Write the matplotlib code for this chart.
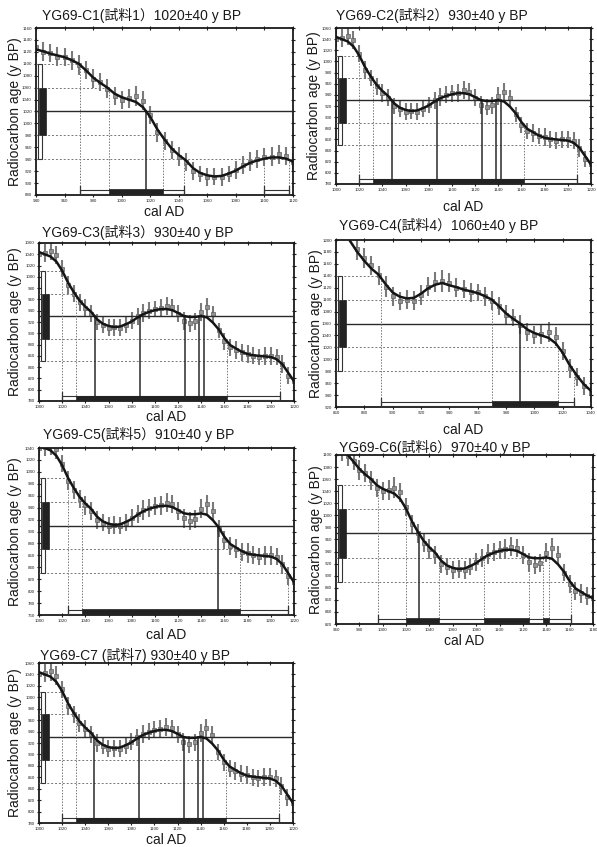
import numpy as np
import matplotlib
matplotlib.use("Agg")
import matplotlib.pyplot as plt
import matplotlib.transforms as mtransforms
from matplotlib.patches import Rectangle

plt.rcParams["font.family"] = ["Liberation Sans", "Noto Sans CJK JP", "DejaVu Sans"]

# --- calibration curve (cal AD -> radiocarbon age BP) ---
curve_year = [870, 875, 880, 885, 890, 895, 900, 905, 910, 915, 920, 925, 930, 935,
              940, 945, 950, 955, 960, 965, 970, 975, 980, 985, 990, 995, 1000, 1005,
              1010, 1015, 1020, 1025, 1030, 1035, 1040, 1045, 1050, 1055, 1060, 1065,
              1070, 1075, 1080, 1085, 1090, 1095, 1100, 1105, 1110, 1115, 1120, 1125,
              1130, 1135, 1140, 1145, 1150, 1155, 1160, 1165, 1170, 1175, 1180, 1185,
              1190, 1195, 1200, 1205, 1210, 1215, 1220]
curve_bp = [1198, 1180, 1165, 1152, 1142, 1126, 1112, 1105, 1102, 1103, 1110, 1119, 1125, 1128,
            1124, 1121, 1117, 1114, 1111, 1106, 1100, 1089, 1077, 1068, 1060, 1050, 1044, 1040,
            1036, 1027, 1011, 990, 973, 958, 947, 938, 925, 917, 913, 911,
            912, 916, 921, 928, 934, 938, 941, 943, 943, 941, 936, 930.5,
            929, 929, 930.5, 928, 919, 907, 891, 879, 873, 867, 863, 861,
            860, 859, 858, 854, 845, 830, 815]

# --- tree-ring measurements with 1-sigma errors ---
meas_year = [875, 880, 885, 890, 895, 900, 905, 910, 915, 920, 925, 930, 935, 940,
             945, 950, 955, 960, 965, 970, 975, 980, 985, 990, 995, 1000, 1005, 1010,
             1015, 1020, 1025, 1030, 1035, 1040, 1045, 1050, 1055, 1060, 1065, 1070,
             1075, 1080, 1085, 1090, 1095, 1100, 1105, 1110, 1115, 1120, 1125, 1130,
             1135, 1140, 1145, 1150, 1155, 1160, 1165, 1170, 1175, 1180, 1185, 1190,
             1195, 1200, 1205, 1210, 1215, 1220]
meas_bp = [1185, 1170, 1158, 1141, 1122, 1106, 1098, 1100, 1098, 1108, 1122, 1130, 1131, 1128,
           1120, 1118, 1112, 1112, 1106, 1098, 1090, 1075, 1070, 1058, 1046, 1040, 1042, 1046,
           1038, 1014, 985, 970, 955, 944, 935, 920, 915, 910, 911, 910,
           915, 922, 930, 936, 940, 943, 944, 948, 946, 935, 922, 918,
           921, 938, 946, 934, 905, 886, 875, 871, 866, 864, 860, 858,
           860, 860, 858, 845, 825, 815]
meas_err = [18, 17, 16, 16, 17, 16, 15, 16, 16, 17, 16, 17, 18, 16,
            16, 15, 16, 15, 16, 16, 15, 16, 15, 16, 15, 15, 16, 17,
            16, 15, 16, 15, 15, 16, 15, 15, 14, 15, 15, 15,
            14, 15, 15, 16, 15, 15, 16, 16, 15, 15, 16, 15,
            15, 16, 16, 15, 14, 15, 15, 16, 15, 16, 15, 15,
            16, 16, 15, 16, 15, 15]

# --- samples ---
titles = ["YG69-C1(試料1）1020±40 y BP",
          "YG69-C2(試料2）930±40 y BP",
          "YG69-C3(試料3）930±40 y BP",
          "YG69-C4(試料4）1060±40 y BP",
          "YG69-C5(試料5）910±40 y BP",
          "YG69-C6(試料6）970±40 y BP",
          "YG69-C7 (試料7) 930±40 y BP"]
sample_age = [1020, 930, 930, 1060, 910, 970, 930]
sample_err = [40, 40, 40, 40, 40, 40, 40]
x_limits = [(940, 1120), (1000, 1220), (1000, 1220), (860, 1040),
            (1000, 1220), (960, 1180), (1000, 1220)]
y_limits = [(880, 1160), (780, 1060), (780, 1060), (920, 1200),
            (760, 1040), (820, 1100), (780, 1060)]
range_1sigma = [[(991, 1029)],
                [(1032, 1162)],
                [(1032, 1162)],
                [(970, 1017)],
                [(1037, 1173)],
                [(1020, 1048), (1087, 1125), (1137, 1142)],
                [(1032, 1162)]]
range_2sigma = [[(971, 1044), (1100, 1117)],
                [(1020, 1208)],
                [(1020, 1208)],
                [(892, 1028)],
                [(1025, 1215)],
                [(996, 1161)],
                [(1020, 1208)]]
intercepts = [[1017],
              [1048, 1087, 1126, 1138, 1142],
              [1048, 1087, 1126, 1138, 1142],
              [990],
              [1154],
              [1031],
              [1048, 1087, 1126, 1138, 1142]]

# --- page layout in pixels: (left, top, right, bottom) ---
W, H = 597, 847
boxes = [(36, 28, 293, 195), (336, 28, 591, 184), (39, 243, 294, 401),
         (336, 240, 591, 407), (39, 448, 294, 615), (336, 455, 593, 624),
         (39, 663, 293, 823)]
title_pos = [(42, 15), (336, 15), (42, 232), (339, 225), (43, 434), (339, 447), (40, 655)]
xlabel_y = [212, 207, 417, 430, 635, 641, 840]
ylabel_x = [15, 314, 15, 316, 15, 316, 15]

fig = plt.figure(figsize=(W / 100, H / 100), dpi=100)

cx = np.array(curve_year, float)
cy = np.array(curve_bp, float)

for i in range(len(titles)):
    l, t, r, b = boxes[i]
    ax = fig.add_axes([l / W, 1 - b / H, (r - l) / W, (b - t) / H])
    x0, x1 = x_limits[i]
    y0, y1 = y_limits[i]
    ax.set_xlim(x0, x1)
    ax.set_ylim(y0, y1)
    age, err = sample_age[i], sample_err[i]
    levels = [age + 2 * err, age + err, age - err, age - 2 * err]

    # measurements and curve
    ax.errorbar(meas_year, meas_bp, yerr=meas_err, fmt="s", ms=3.0, color="#7a7a7a",
                mfc="#929292", mec="#5e5e5e", mew=0.5, elinewidth=1.5, capsize=0, zorder=2)
    ax.plot(cx, cy, color="#151515", lw=1.8, zorder=4)

    # mean age line
    ax.axhline(age, color="#2a2a2a", lw=1.0, zorder=3)

    # range edges: dotted verticals up to the curve level, dotted horizontals
    edges = [e for rng in range_1sigma[i] + range_2sigma[i] for e in rng]
    reach = {}
    for e in edges:
        c_here = np.interp(e, cx, cy)
        lev = min(levels, key=lambda L: abs(L - c_here))
        ax.plot([e, e], [y0, lev], color="#777777", lw=0.7, ls=(0, (1.5, 1.5)), zorder=3)
        reach[lev] = max(reach.get(lev, x0), e)
    for lev in levels:
        ax.plot([x0, reach.get(lev, x0)], [lev, lev], color="#777777", lw=0.7,
                ls=(0, (2, 2)), zorder=3)

    # intercept lines
    for e in intercepts[i]:
        ax.plot([e, e], [y0, age], color="#2a2a2a", lw=1.1, zorder=3)

    # calibrated ranges along the bottom
    tb = mtransforms.blended_transform_factory(ax.transData, ax.transAxes)
    for a, c in range_2sigma[i]:
        ax.add_patch(Rectangle((a, 0.008), c - a, 0.022, transform=tb, fc="white",
                               ec="#333333", lw=0.8, zorder=5, clip_on=False))
        for e in (a, c):
            ax.plot([e, e], [0.005, 0.055], transform=tb, color="#333333", lw=0.9,
                    zorder=5, clip_on=False)
    for a, c in range_1sigma[i]:
        ax.add_patch(Rectangle((a, 0.004), c - a, 0.03, transform=tb, fc="#222222",
                               ec="#222222", lw=0.5, zorder=6, clip_on=False))

    # measured age bars along the left
    tl = mtransforms.blended_transform_factory(ax.transAxes, ax.transData)
    ax.add_patch(Rectangle((0.006, age - 2 * err), 0.016, 4 * err, transform=tl,
                           fc="white", ec="#333333", lw=0.8, zorder=5))
    ax.add_patch(Rectangle((0.012, age - err), 0.028, 2 * err, transform=tl,
                           fc="#222222", ec="#222222", lw=0.5, zorder=6))

    ax.set_xticks(np.arange(x0, x1 + 1, 20))
    ax.set_yticks(np.arange(y0, y1 + 1, 20))
    ax.tick_params(direction="inout", length=3, width=0.8, labelsize=3.2,
                   top=True, right=True, pad=1.5, colors="#222222")
    for s in ax.spines.values():
        s.set_linewidth(1.3)
        s.set_color("#1a1a1a")

    tx, ty = title_pos[i]
    fig.text(tx / W, 1 - ty / H, titles[i], ha="left", va="center", fontsize=10,
             color="#1a1a1a")
    fig.text((l + r) / 2 / W, 1 - xlabel_y[i] / H, "cal AD", ha="center", va="center",
             fontsize=10, color="#1a1a1a")
    fig.text(ylabel_x[i] / W, 1 - (t + b) / 2 / H, "Radiocarbon age (y BP)", rotation=90,
             ha="center", va="center", fontsize=10, color="#1a1a1a")

fig.savefig("out.png", dpi=100)
